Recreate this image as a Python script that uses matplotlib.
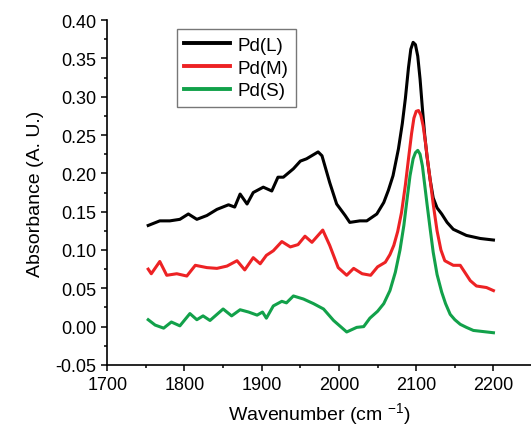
import matplotlib
matplotlib.use("Agg")
import matplotlib.pyplot as plt
from matplotlib.ticker import MultipleLocator

plt.rcParams['font.family'] = ['Liberation Sans', 'DejaVu Sans']
plt.rcParams['mathtext.fontset'] = 'custom'
plt.rcParams['mathtext.rm'] = 'Liberation Sans'

# Pd(L)
wn_L = [1753, 1768, 1781, 1794, 1805, 1816, 1829, 1842, 1857, 1865, 1872, 1881,
        1889, 1902, 1913, 1921, 1928, 1941, 1950, 1958, 1973, 1978, 1988, 1997,
        2008, 2014, 2027, 2036, 2049, 2058, 2064, 2070, 2077, 2082, 2086, 2090,
        2093, 2096, 2099, 2102, 2105, 2108, 2111, 2114, 2118, 2122, 2127, 2133,
        2140, 2148, 2165, 2183, 2200]
abs_L = [0.132, 0.138, 0.138, 0.140, 0.147, 0.140, 0.145, 0.153, 0.159, 0.156, 0.173, 0.160,
         0.175, 0.182, 0.177, 0.195, 0.195, 0.206, 0.216, 0.219, 0.228, 0.223, 0.188, 0.160,
         0.145, 0.136, 0.138, 0.138, 0.147, 0.162, 0.178, 0.197, 0.232, 0.265, 0.298, 0.338,
         0.362, 0.371, 0.368, 0.353, 0.323, 0.285, 0.250, 0.222, 0.192, 0.168, 0.155, 0.147,
         0.136, 0.127, 0.119, 0.115, 0.113]

# Pd(M)
wn_M = [1753, 1757, 1768, 1777, 1790, 1803, 1814, 1829, 1842, 1855, 1868, 1878,
        1889, 1898, 1906, 1915, 1926, 1937, 1947, 1956, 1965, 1979, 1988, 1999,
        2010, 2019, 2030, 2041, 2050, 2060, 2066, 2071, 2076, 2081, 2086, 2090,
        2094, 2097, 2100, 2103, 2106, 2109, 2112, 2115, 2118, 2122, 2127, 2132,
        2137, 2148, 2157, 2170, 2178, 2191, 2200]
abs_M = [0.075, 0.069, 0.085, 0.067, 0.069, 0.066, 0.080, 0.077, 0.076, 0.079, 0.086, 0.074,
         0.090, 0.082, 0.093, 0.099, 0.111, 0.104, 0.107, 0.118, 0.110, 0.126, 0.106, 0.077,
         0.067, 0.076, 0.069, 0.067, 0.078, 0.084, 0.094, 0.106, 0.124, 0.149, 0.185, 0.219,
         0.252, 0.272, 0.281, 0.282, 0.276, 0.262, 0.240, 0.215, 0.192, 0.160, 0.125, 0.100,
         0.086, 0.080, 0.080, 0.060, 0.053, 0.051, 0.047]

# Pd(S)
wn_S = [1753, 1762, 1773, 1783, 1794, 1807, 1816, 1824, 1833, 1850, 1861, 1872,
        1883, 1894, 1901, 1906, 1915, 1926, 1932, 1941, 1954, 1967, 1980, 1993,
        2010, 2023, 2032, 2040, 2050, 2058, 2066, 2073, 2079, 2084, 2088, 2092,
        2096, 2099, 2102, 2105, 2108, 2111, 2114, 2118, 2122, 2127, 2133, 2138,
        2144, 2150, 2157, 2165, 2174, 2200]
abs_S = [0.009, 0.002, -0.002, 0.006, 0.001, 0.017, 0.009, 0.014, 0.008, 0.023, 0.014, 0.022,
         0.019, 0.015, 0.019, 0.011, 0.027, 0.033, 0.031, 0.040, 0.036, 0.030, 0.023, 0.008,
         -0.007, -0.001, 0.000, 0.011, 0.020, 0.030, 0.047, 0.071, 0.100, 0.132, 0.165, 0.197,
         0.219, 0.227, 0.230, 0.225, 0.210, 0.185, 0.160, 0.128, 0.097, 0.068, 0.045, 0.030,
         0.016, 0.009, 0.003, -0.001, -0.005, -0.008]

fig = plt.figure(figsize=(5.31, 4.31), dpi=100)
ax = fig.add_axes([0.202, 0.151, 0.800, 0.800])

ax.plot(wn_L, abs_L, color='black', lw=2.2, label='Pd(L)')
ax.plot(wn_M, abs_M, color='#ed2224', lw=2.2, label='Pd(M)')
ax.plot(wn_S, abs_S, color='#12a14a', lw=2.2, label='Pd(S)')

ax.set_xlim(1700, 2250)
ax.set_ylim(-0.05, 0.40)
ax.xaxis.set_major_locator(MultipleLocator(100))
ax.xaxis.set_minor_locator(MultipleLocator(50))
ax.yaxis.set_major_locator(MultipleLocator(0.05))
ax.yaxis.set_minor_locator(MultipleLocator(0.025))
ax.yaxis.set_major_formatter(plt.FormatStrFormatter('%.2f'))
ax.tick_params(which='major', direction='out', length=4.5, width=1.1, labelsize=13)
ax.tick_params(which='minor', direction='out', length=2.5, width=1.1)
for s in ['top', 'right']:
    ax.spines[s].set_visible(False)
for s in ['left', 'bottom']:
    ax.spines[s].set_linewidth(1.2)

ax.set_xlabel('Wavenumber (cm $^{\\mathregular{-1}}$)', fontsize=14, labelpad=5)
ax.set_ylabel('Absorbance (A. U.)', fontsize=14, labelpad=8)

leg = ax.legend(loc='upper left', bbox_to_anchor=(0.333, 0.930),
                bbox_transform=fig.transFigure, fontsize=13.5, frameon=True,
                fancybox=False, handlelength=2.45, handletextpad=0.37,
                labelspacing=0.3, borderpad=0.4, borderaxespad=0)
leg.get_frame().set_edgecolor('#555555')
leg.get_frame().set_linewidth(1.0)
for line in leg.get_lines():
    line.set_linewidth(2.8)

fig.savefig('out.png', dpi=100)
